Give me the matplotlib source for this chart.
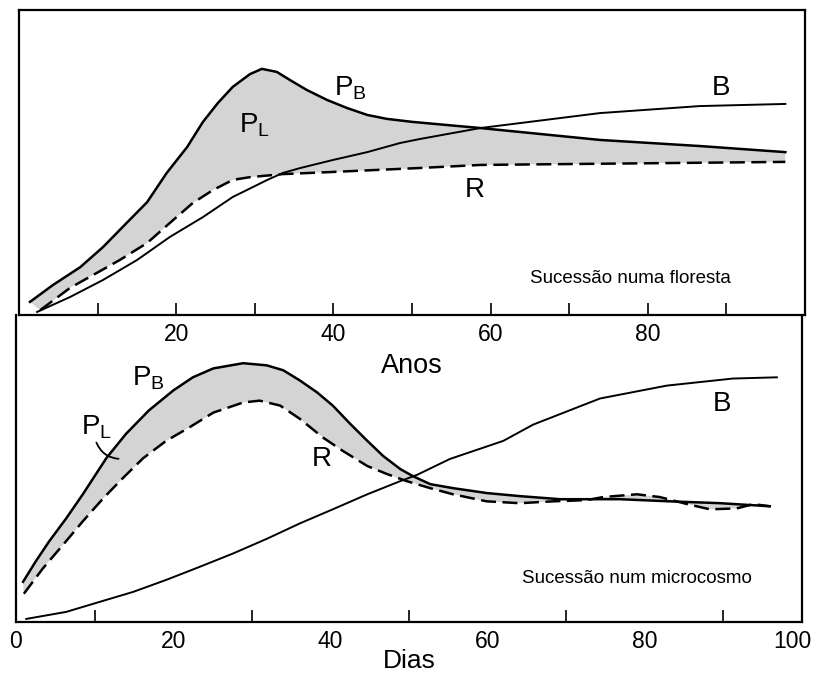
import numpy as np
import matplotlib
matplotlib.use('Agg')
import matplotlib.pyplot as plt
from matplotlib.transforms import ScaledTranslation

plt.rcParams['font.family'] = ['Liberation Sans', 'DejaVu Sans']

# floresta (anos)
flor_pb_x = [1.4, 4.3, 7.8, 10.7, 13.7, 16.3, 18.8, 21.4, 23.4, 25.3, 27.2, 29.4, 30.9, 32.8, 34.5, 36.6,
             39.2, 41.7, 44.3, 46.8, 50.1, 58.7, 73.9, 86.6, 97.5]
flor_pb_y = [4.3, 9.8, 15.7, 22.3, 30.2, 37.0, 46.6, 55.1, 63.3, 69.5, 74.8, 79.0, 80.7, 79.7, 77.0, 73.8,
             70.5, 67.9, 65.6, 64.3, 63.3, 61.3, 57.4, 55.4, 53.4]
flor_r_x = [2.7, 6.5, 9.9, 12.8, 16.3, 19.2, 22.1, 24.7, 27.2, 29.4, 33.6, 39.9, 51.0, 58.7, 97.5]
flor_r_y = [1.6, 8.9, 13.8, 18.0, 23.6, 30.2, 36.7, 41.0, 44.3, 45.2, 46.2, 46.9, 48.2, 49.2, 50.2]
flor_b_x = [2.3, 6.5, 10.7, 15.0, 19.2, 23.4, 27.2, 31.6, 33.6, 35.8, 39.9, 44.3, 48.5, 51.0, 58.7, 73.9,
            86.6, 97.5]
flor_b_y = [1.0, 5.9, 11.5, 18.0, 25.6, 32.1, 38.7, 44.3, 46.6, 48.2, 50.8, 53.4, 56.4, 57.7, 61.3, 66.2,
            68.5, 69.2]

# microcosmo (dias)
mic_pb_x = [0.9, 2.5, 4.2, 6.4, 8.5, 11.5, 14.0, 16.9, 20.0, 22.5, 25.1, 28.9, 31.9, 34.0, 36.1, 38.3,
            40.3, 42.5, 44.7, 46.7, 48.9, 50.5, 52.7, 55.6, 59.9, 64.1, 69.2, 76.8, 83.2, 89.6, 95.9]
mic_pb_y = [13.1, 19.7, 26.2, 33.8, 41.6, 53.4, 61.3, 68.9, 75.4, 79.7, 82.6, 84.3, 83.6, 82.0, 78.7, 74.8,
            70.5, 64.6, 59.0, 54.1, 49.8, 47.5, 44.9, 43.6, 42.0, 41.0, 40.0, 40.0, 39.3, 38.7, 37.7]
mic_r_x = [1.0, 3.4, 6.0, 8.5, 11.1, 13.6, 16.2, 19.1, 22.0, 25.1, 28.9, 31.0, 33.6, 36.1, 39.1, 41.6,
           44.7, 47.2, 49.7, 52.7, 55.6, 59.9, 64.1, 68.3, 72.6, 74.7, 79.0, 81.9, 85.4, 88.3, 91.7,
           93.8, 95.9]
mic_r_y = [9.2, 17.4, 25.2, 32.8, 40.3, 46.9, 53.4, 59.0, 63.3, 68.2, 71.5, 72.1, 70.5, 66.2, 60.0, 55.7,
           50.8, 48.2, 45.9, 43.6, 41.6, 39.3, 38.7, 39.3, 39.7, 40.7, 41.6, 40.7, 38.4, 36.7, 37.0,
           38.4, 37.7]
mic_b_x = [1.3, 6.4, 10.7, 14.9, 19.2, 23.4, 27.6, 32.0, 36.1, 40.3, 44.7, 48.9, 51.0, 55.2, 62.0, 65.8,
           74.3, 82.8, 91.2, 96.8]
mic_b_y = [1.0, 3.3, 6.6, 9.8, 13.8, 18.0, 22.3, 27.2, 32.1, 36.7, 41.6, 45.9, 47.9, 53.1, 59.0, 64.3,
           72.8, 77.0, 79.3, 79.7]

W, H = 814, 677
fig = plt.figure(figsize=(W / 100, H / 100), dpi=100)
fig.set_facecolor('white')
ax1 = fig.add_axes([16 / W, (H - 622) / H, 786 / W, 307 / H])
ax0 = fig.add_axes([19 / W, (H - 315) / H, 786 / W, 305 / H])
ax0.set_zorder(3)

lw = 1.8
dash = (0, (6, 2.6))
shade = '#d4d4d4'


def drawPanel(ax, pbx, pby, rx, ry, bx, by):
    ax.fill(np.concatenate([pbx, rx[::-1]]), np.concatenate([pby, ry[::-1]]),
            color=shade, lw=0, zorder=1)
    ax.plot(pbx, pby, color='black', lw=lw, zorder=3, solid_joinstyle='round')
    ax.plot(rx, ry, color='black', lw=lw, ls=dash, zorder=3)
    ax.plot(bx, by, color='black', lw=1.4, zorder=3, solid_joinstyle='round')
    ax.set_xlim(0, 100)
    ax.set_ylim(0, 100)
    ax.set_yticks([])
    ax.set_xticks(range(10, 100, 10), minor=True)
    ax.tick_params(axis='x', which='both', direction='in', length=9, width=1.2,
                   labelsize=16.5, pad=6)
    for s in ax.spines.values():
        s.set_linewidth(1.6)


drawPanel(ax0, flor_pb_x, flor_pb_y, flor_r_x, flor_r_y, flor_b_x, flor_b_y)
ax0.set_xticks([20, 40, 60, 80])
ax0.set_xlabel('Anos', fontsize=19.5, labelpad=5)
ax0.text(42.2, 74.4, r'$\mathregular{P_B}$', fontsize=20, ha='center', va='center')
ax0.text(29.9, 62.3, r'$\mathregular{P_L}$', fontsize=20, ha='center', va='center')
ax0.text(89.3, 74.4, 'B', fontsize=20, ha='center', va='center')
ax0.text(58.0, 41.0, 'R', fontsize=20, ha='center', va='center')
ax0.text(77.8, 12.1, 'Sucessão numa floresta', fontsize=13.5, ha='center', va='center')

drawPanel(ax1, mic_pb_x, mic_pb_y, mic_r_x, mic_r_y, mic_b_x, mic_b_y)
ax1.spines['top'].set_visible(False)
ax1.set_xticks([0, 20, 40, 60, 80, 100])
ax1.tick_params(axis='x', which='major', length=0)
ax1.set_xlabel('Dias', fontsize=19, labelpad=-3)
# "100" sits a little left of the corner
lab = ax1.get_xticklabels()[-1]
lab.set_transform(lab.get_transform() + ScaledTranslation(-10 / 100, 0, fig.dpi_scale_trans))
ax1.text(16.8, 79.3, r'$\mathregular{P_B}$', fontsize=20, ha='center', va='center')
ax1.text(10.3, 63.5, r'$\mathregular{P_L}$', fontsize=20, ha='center', va='center')
ax1.annotate('', xy=(13.4, 53.1), xytext=(10.1, 59.3),
             arrowprops=dict(arrowstyle='-', lw=1.3, color='black',
                             connectionstyle='arc3,rad=0.35'))
ax1.text(89.8, 71.1, 'B', fontsize=20, ha='center', va='center')
ax1.text(38.9, 53.1, 'R', fontsize=20, ha='center', va='center')
ax1.text(79.0, 14.1, 'Sucessão num microcosmo', fontsize=13.5, ha='center', va='center')

fig.savefig('out.png', dpi=100, facecolor='white')
